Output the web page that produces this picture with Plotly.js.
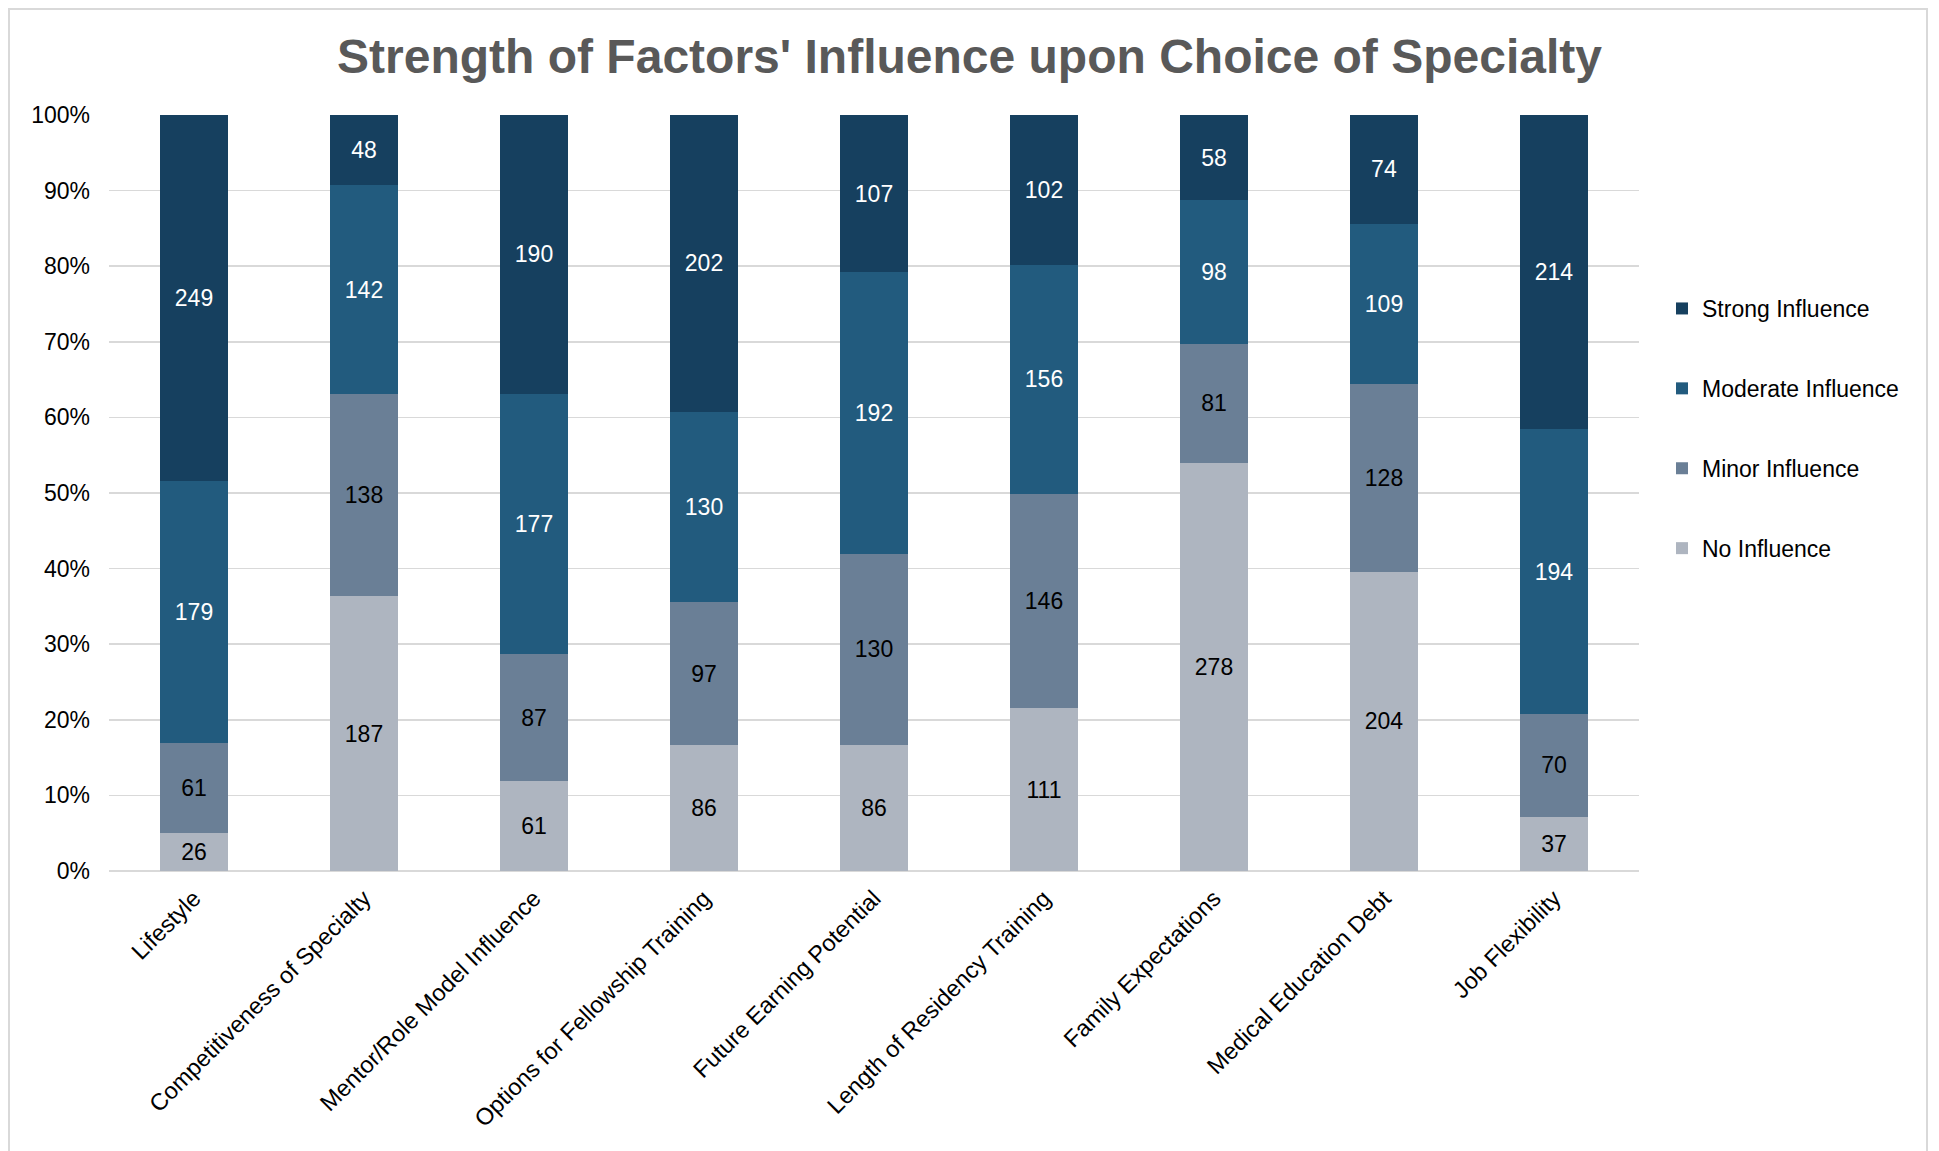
<!DOCTYPE html>
<html>
<head>
<meta charset="utf-8">
<script src="https://cdn.plot.ly/plotly-3.0.1.min.js"></script>
<style>
  html, body { margin: 0; padding: 0; background: #ffffff; }
  #wrap { position: relative; width: 1939px; height: 1151px; overflow: hidden; }
  #chart { width: 1939px; height: 1151px; }
  #frame { position: absolute; left: 8px; top: 8px; width: 1920px; height: 1160px;
           border: 2px solid #d9d9d9; pointer-events: none; box-sizing: border-box; }
</style>
</head>
<body>
<div id="wrap">
  <div id="chart"></div>
  <div id="frame"></div>
</div>
<script>
const categories = [
  "Lifestyle",
  "Competitiveness of Specialty",
  "Mentor/Role Model Influence",
  "Options for Fellowship Training",
  "Future Earning Potential",
  "Length of Residency Training",
  "Family Expectations",
  "Medical Education Debt",
  "Job Flexibility"
];
const noInfluence       = [26, 187, 61, 86, 86, 111, 278, 204, 37];
const minorInfluence    = [61, 138, 87, 97, 130, 146, 81, 128, 70];
const moderateInfluence = [179, 142, 177, 130, 192, 156, 98, 109, 194];
const strongInfluence   = [249, 48, 190, 202, 107, 102, 58, 74, 214];

const FONT = "Liberation Sans, Arial, Helvetica, sans-serif";

function makeTrace(name, values, color, textColor, group, rank) {
  return {
    type: "bar",
    name: name,
    x: categories,
    y: values,
    text: values.map(String),
    texttemplate: "%{text}",
    textposition: "inside",
    insidetextanchor: "middle",
    textangle: 0,
    constraintext: "none",
    textfont: { family: FONT, size: 23, color: textColor },
    marker: { color: color, line: { width: 0 } },
    legendgroup: group,
    legendrank: rank,
    hoverinfo: "skip"
  };
}

const data = [
  makeTrace("No Influence", noInfluence, "#AEB5C0", "#000000", "g4", 4),
  makeTrace("Minor Influence", minorInfluence, "#6A7F96", "#000000", "g3", 3),
  makeTrace("Moderate Influence", moderateInfluence, "#225B7E", "#ffffff", "g2", 2),
  makeTrace("Strong Influence", strongInfluence, "#16405F", "#ffffff", "g1", 1)
];

const layout = {
  width: 1939,
  height: 1151,
  paper_bgcolor: "#ffffff",
  plot_bgcolor: "#ffffff",
  barmode: "stack",
  barnorm: "percent",
  bargap: 0.6,
  font: { family: FONT, size: 23, color: "#000000" },
  margin: { l: 109, r: 300, t: 115, b: 280, pad: 0 },
  title: {
    text: "<b>Strength of Factors' Influence upon Choice of Specialty</b>",
    font: { family: FONT, size: 48, color: "#595959" },
    x: 0.5, xref: "container", xanchor: "center",
    y: 1 - 56 / 1151, yref: "container", yanchor: "middle"
  },
  xaxis: {
    type: "category",
    tickangle: -45,
    tickfont: { family: FONT, size: 23.5, color: "#000000" },
    showgrid: false,
    showline: false,
    ticks: "",
    zeroline: false,
    ticklabelstandoff: 8
  },
  yaxis: {
    range: [0, 100],
    dtick: 10,
    ticksuffix: "%",
    tickfont: { family: FONT, size: 23, color: "#000000" },
    showgrid: true,
    gridcolor: "#d9d9d9",
    gridwidth: 1.5,
    zeroline: true,
    zerolinecolor: "#d9d9d9",
    zerolinewidth: 2,
    showline: false,
    ticks: "",
    ticklabelstandoff: 18,
    fixedrange: true
  },
  showlegend: true,
  legend: {
    x: 1662 / 1939, xref: "container", xanchor: "left",
    y: 1 - 287 / 1151, yref: "container", yanchor: "top",
    traceorder: "grouped",
    tracegroupgap: 47,
    font: { family: FONT, size: 23, color: "#000000" },
    itemwidth: 30,
    bgcolor: "rgba(0,0,0,0)"
  }
};

Plotly.newPlot("chart", data, layout, { displayModeBar: false, staticPlot: true });
</script>
</body>
</html>
